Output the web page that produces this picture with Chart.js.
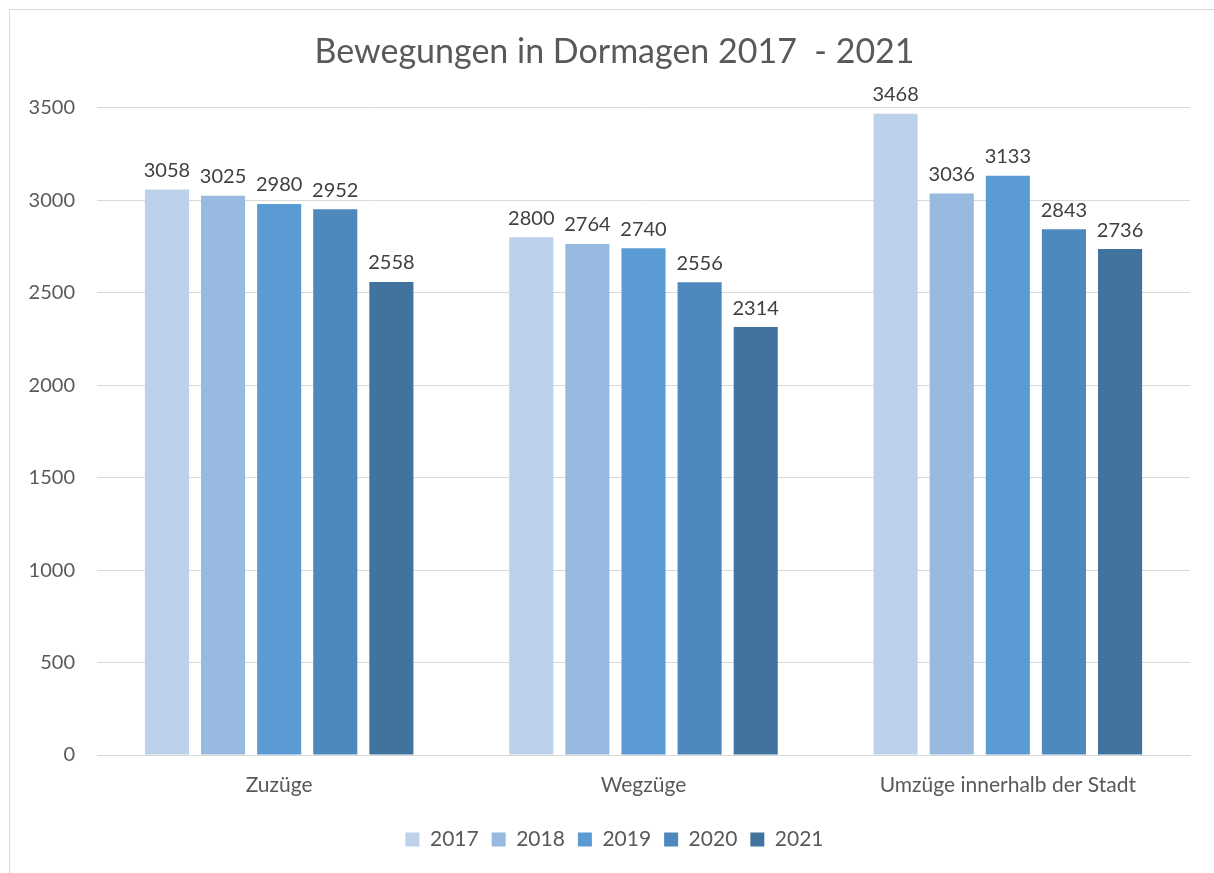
<!DOCTYPE html>
<html>
<head>
<meta charset="utf-8">
<script src="https://cdn.jsdelivr.net/npm/chart.js@4"></script>
<style>
  html, body { margin: 0; padding: 0; background: #fff; }
  #frame {
    position: absolute; left: 9px; top: 9px;
    width: 1220px; height: 880px;
    border: 1px solid #d9d9d9; box-sizing: border-box;
  }
  #wrap { position: absolute; left: 10px; top: 10px; width: 1204px; height: 863px; }
</style>
</head>
<body>
<div id="frame"></div>
<div id="wrap"><canvas id="chart"></canvas></div>
<script>
const categories = ['Zuzüge', 'Wegzüge', 'Umzüge innerhalb der Stadt']
const years = ['2017', '2018', '2019', '2020', '2021']
const values2017 = [3058, 2800, 3468]
const values2018 = [3025, 2764, 3036]
const values2019 = [2980, 2740, 3133]
const values2020 = [2952, 2556, 2843]
const values2021 = [2558, 2314, 2736]
const yTicks = [0, 500, 1000, 1500, 2000, 2500, 3000, 3500]

const colors = ['#bdd1ea', '#98b9e0', '#5b9bd5', '#4e89be', '#42739f']
const series = [values2017, values2018, values2019, values2020, values2021]
const font = 'Lato'

// draws the value above each bar
const barValues = {
    id: 'barValues',
    afterDatasetsDraw (chart) {
        const ctx = chart.ctx
        ctx.save()
        ctx.font = `20px ${font}`
        ctx.fillStyle = '#404040'
        ctx.textAlign = 'center'
        ctx.textBaseline = 'bottom'
        chart.data.datasets.forEach((ds, i) => {
            chart.getDatasetMeta(i).data.forEach((bar, j) => {
                ctx.fillText(ds.data[j], bar.x, bar.y - 9)
            })
        })
        ctx.restore()
    }
}

new Chart(document.getElementById('chart'), {
    type: 'bar',
    data: {
        labels: categories,
        datasets: series.map((data, i) => ({
            label: years[i],
            data: data,
            backgroundColor: colors[i],
            borderWidth: 0,
            categoryPercentage: 0.77,
            barPercentage: 0.786
        }))
    },
    plugins: [barValues],
    options: {
        responsive: true,
        maintainAspectRatio: false,
        animation: false,
        layout: { padding: { left: 29, right: 24, bottom: 13 } },
        plugins: {
            title: {
                display: true,
                text: 'Bewegungen in Dormagen 2017  - 2021',
                color: '#595959',
                font: { family: font, size: 34, weight: 'normal' },
                padding: { top: 22, bottom: 35 }
            },
            legend: {
                position: 'bottom',
                labels: {
                    color: '#595959',
                    font: { family: font, size: 21 },
                    boxWidth: 14,
                    boxHeight: 14,
                    padding: 13
                }
            },
            tooltip: { enabled: false }
        },
        scales: {
            x: {
                grid: { display: false, drawTicks: false },
                border: { color: '#d9d9d9' },
                afterFit: scale => { scale.height = 61 },
                ticks: { color: '#595959', font: { family: font, size: 21 }, padding: 18 }
            },
            y: {
                min: 0,
                max: 3500,
                afterBuildTicks: scale => { scale.ticks = yTicks.map(v => ({ value: v })) },
                afterFit: scale => {
                    scale.width = 58
                    // labels reach into the left padding, so don't clip them
                    scale._computeLabelArea = () => undefined
                },
                grid: { color: '#d9d9d9', drawTicks: false },
                border: { display: false },
                ticks: {
                    color: '#595959',
                    font: { family: font, size: 20 },
                    padding: 22,
                    callback: v => String(v)
                }
            }
        }
    }
})
</script>
</body>
</html>
